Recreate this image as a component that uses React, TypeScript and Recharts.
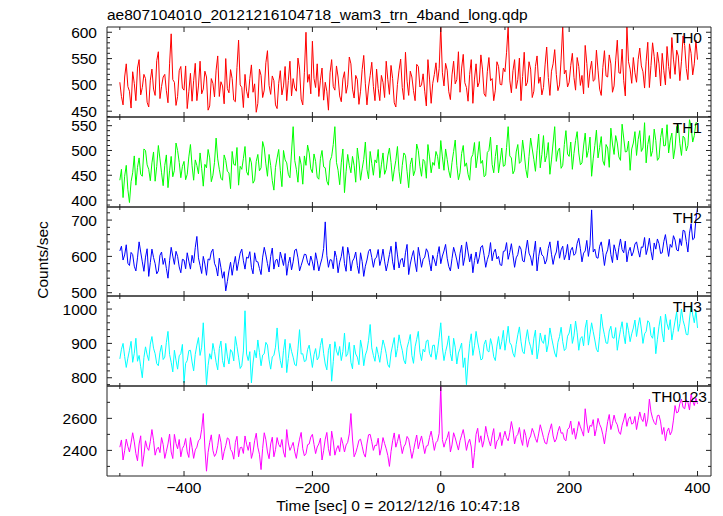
import React from 'react';
import { LineChart, Line, XAxis, YAxis } from 'recharts';

// light curve bins: t = -500 + i * 2.5 sec
const T_START = -500;
const T_STEP = 2.5;

const th0 = [
  505, 478, 462, 515, 540, 497, 488, 456, 525, 503, 470, 532, 548, 481, 495, 520, 512, 467, 458, 509, 530, 492, 480, 546, 563, 474, 497, 515, 520, 489, 466, 540, 597, 510, 505, 461, 478, 527, 535, 494,
  490, 536, 455, 487, 522, 469, 508, 541, 470, 498, 545, 483, 492, 526, 515, 452, 460, 512, 503, 477, 528, 555, 478, 506, 498, 464, 550, 493, 485, 529, 512, 471, 468, 533, 585, 500, 495, 457, 520, 488,
  475, 512, 538, 486, 502, 448, 465, 530, 518, 476, 490, 542, 565, 499, 482, 517, 508, 462, 455, 503, 527, 481, 498, 535, 470, 508, 545, 479, 512, 494, 488, 551, 530, 473, 462, 524, 600, 505, 520, 483,
  583, 512, 495, 540, 478, 509, 532, 471, 505, 488, 452, 523, 548, 497, 490, 536, 515, 479, 468, 511, 525, 484, 500, 553, 540, 492, 475, 518, 510, 463, 488, 529, 556, 502, 462, 496, 518, 543, 497, 470,
  530, 493, 470, 518, 505, 476, 545, 510, 482, 537, 512, 466, 458, 501, 528, 549, 495, 472, 562, 507, 480, 526, 515, 489, 470, 539, 535, 496, 500, 521, 488, 460, 548, 511, 465, 503, 520, 542, 505, 531,
  612, 523, 498, 541, 528, 487, 472, 519, 545, 502, 510, 563, 486, 532, 558, 504, 495, 469, 520, 548, 465, 511, 540, 496, 505, 557, 530, 483, 478, 525, 552, 508, 512, 470, 490, 544, 535, 501, 500, 532,
  525, 562, 612, 509, 485, 527, 548, 493, 510, 551, 470, 516, 562, 498, 505, 544, 530, 476, 488, 535, 555, 503, 515, 481, 495, 538, 572, 514, 480, 526, 540, 567, 520, 489, 500, 549, 612, 521, 528, 496,
  505, 537, 560, 514, 490, 552, 535, 499, 518, 483, 575, 541, 495, 528, 545, 507, 510, 566, 528, 492, 480, 533, 565, 517, 515, 557, 540, 486, 498, 547, 585, 523, 522, 568, 508, 479, 612, 544, 530, 503,
  552, 523, 505, 548, 570, 536, 525, 494, 545, 581, 495, 537, 580, 554, 515, 562, 540, 498, 560, 527, 500, 573, 535, 512, 590, 549, 520, 566, 555, 508, 545, 593, 575, 531, 510, 578, 560, 519, 540, 585,
  548,
];

const th1 = [
  440, 462, 405, 448, 470, 421, 395, 437, 455, 489, 430, 466, 485, 452, 448, 503, 500, 471, 462, 439, 475, 497, 438, 468, 510, 483, 455, 429, 470, 491, 425, 459, 488, 447, 460, 515, 500, 476, 445, 468,
  478, 441, 452, 487, 512, 469, 440, 481, 470, 453, 495, 464, 428, 472, 465, 502, 485, 437, 450, 476, 525, 483, 462, 444, 440, 491, 480, 458, 455, 423, 498, 472, 470, 506, 430, 468, 462, 484, 508, 457,
  450, 486, 475, 434, 440, 478, 492, 459, 465, 518, 505, 473, 448, 492, 470, 439, 420, 466, 485, 502, 460, 427, 500, 481, 475, 452, 445, 497, 548, 480, 462, 436, 488, 471, 432, 489, 470, 511, 495, 463,
  455, 493, 478, 446, 442, 484, 500, 467, 465, 438, 430, 479, 488, 512, 548, 476, 460, 431, 475, 503, 415, 458, 492, 470, 455, 488, 470, 436, 505, 479, 440, 463, 482, 517, 462, 443, 498, 474, 450, 481,
  475, 502, 445, 471, 495, 452, 462, 489, 505, 476, 438, 461, 480, 508, 458, 433, 470, 495, 490, 457, 425, 472, 485, 449, 460, 513, 500, 468, 448, 482, 478, 444, 512, 487, 455, 476, 470, 498, 488, 463,
  520, 487, 460, 503, 482, 459, 445, 476, 498, 521, 470, 441, 455, 494, 510, 468, 475, 452, 440, 485, 492, 516, 465, 489, 518, 474, 480, 447, 450, 496, 500, 527, 472, 455, 488, 511, 455, 479, 505, 468,
  470, 506, 548, 489, 485, 453, 460, 497, 512, 474, 478, 521, 495, 462, 445, 488, 525, 503, 482, 458, 500, 533, 465, 492, 530, 477, 490, 516, 452, 481, 515, 548, 478, 499, 505, 464, 470, 512, 540, 493,
  488, 517, 462, 494, 520, 538, 495, 471, 475, 509, 535, 486, 500, 527, 448, 483, 510, 541, 485, 506, 528, 479, 470, 512, 505, 466, 545, 513, 492, 530, 515, 487, 480, 553, 525, 497, 498, 519, 460, 503,
  515, 538, 490, 522, 540, 498, 505, 556, 475, 512, 530, 488, 500, 543, 520, 480, 485, 526, 545, 509, 510, 552, 495, 521, 535, 483, 505, 548, 552, 514, 490, 529, 525, 499, 510, 562, 548, 517, 530, 556,
  555,
];

const th2 = [
  615, 628, 590, 604, 632, 581, 575, 611, 605, 573, 560, 596, 640, 612, 585, 559, 598, 621, 545, 583, 620, 597, 580, 552, 560, 603, 612, 578, 595, 567, 540, 588, 625, 601, 578, 614, 600, 571, 555, 592,
  590, 566, 610, 587, 565, 603, 582, 624, 655, 596, 575, 553, 600, 579, 548, 593, 590, 612, 620, 581, 570, 546, 595, 569, 540, 558, 505, 531, 560, 584, 548, 577, 600, 561, 585, 609, 620, 588, 565, 598,
  595, 613, 570, 552, 610, 586, 585, 567, 550, 598, 625, 604, 580, 557, 600, 623, 565, 589, 592, 571, 612, 594, 575, 608, 548, 580, 598, 563, 585, 617, 620, 596, 560, 575, 590, 606, 605, 583, 575, 601,
  585, 562, 610, 588, 560, 579, 595, 622, 695, 603, 570, 591, 590, 566, 615, 597, 555, 584, 600, 627, 580, 559, 625, 602, 560, 587, 595, 612, 575, 553, 610, 586, 545, 573, 590, 614, 620, 597, 570, 593,
  598, 619, 575, 593, 620, 587, 560, 581, 605, 628, 585, 563, 640, 604, 568, 590, 595, 571, 610, 633, 550, 579, 600, 616, 582, 558, 625, 599, 570, 592, 598, 621, 612, 584, 560, 603, 590, 574, 605, 627,
  580, 601, 615, 633, 595, 572, 560, 594, 625, 609, 590, 566, 608, 631, 575, 598, 640, 612, 585, 607, 555, 589, 612, 580, 598, 626, 630, 603, 570, 591, 605, 638, 588, 611, 620, 593, 600, 577, 575, 614,
  615, 638, 592, 611, 635, 603, 570, 596, 605, 629, 620, 588, 585, 617, 645, 609, 598, 575, 610, 642, 560, 599, 625, 604, 600, 579, 590, 622, 640, 606, 578, 601, 612, 643, 595, 618, 628, 591, 605, 633,
  590, 617, 625, 603, 608, 636, 650, 621, 585, 609, 615, 644, 600, 631, 728, 612, 620, 597, 595, 628, 640, 611, 575, 606, 618, 647, 605, 583, 632, 614, 590, 625, 648, 619, 610, 642, 585, 613, 625, 601,
  612, 634, 640, 617, 598, 626, 625, 652, 605, 623, 650, 614, 590, 637, 620, 648, 635, 608, 610, 641, 660, 629, 600, 633, 625, 657, 645, 618, 615, 649, 630, 672, 670, 641, 612, 664, 690, 646, 650, 702,
  735,
];

const th3 = [
  855, 883, 900, 862, 830, 857, 880, 906, 845, 871, 915, 848, 865, 832, 800, 859, 890, 867, 850, 898, 920, 886, 870, 841, 835, 874, 895, 853, 860, 903, 935, 868, 845, 817, 880, 851, 825, 864, 870, 897,
  785, 842, 850, 879, 880, 846, 820, 868, 895, 917, 865, 889, 960, 872, 780, 836, 870, 854, 900, 876, 845, 823, 885, 907, 850, 831, 900, 863, 840, 882, 875, 849, 920, 891, 860, 827, 835, 878, 995, 869,
  850, 876, 785, 843, 880, 858, 910, 874, 835, 866, 870, 903, 895, 852, 825, 861, 865, 889, 945, 881, 850, 829, 880, 912, 815, 856, 900, 877, 860, 838, 835, 884, 940, 869, 870, 847, 850, 882, 895, 863,
  830, 867, 885, 852, 860, 894, 915, 871, 840, 823, 880, 898, 790, 847, 905, 878, 865, 891, 850, 876, 930, 862, 870, 903, 845, 826, 895, 869, 860, 838, 910, 884, 835, 866, 880, 909, 955, 887, 865, 848,
  890, 868, 845, 879, 910, 893, 870, 838, 830, 872, 895, 917, 860, 885, 925, 899, 880, 851, 840, 887, 905, 926, 865, 842, 890, 912, 935, 874, 850, 883, 875, 907, 910, 871, 860, 894, 895, 853, 880, 918,
  960, 887, 850, 876, 895, 922, 870, 849, 915, 889, 840, 872, 885, 901, 830, 858, 780, 846, 900, 928, 865, 893, 935, 904, 880, 852, 855, 897, 910, 879, 875, 914, 895, 861, 850, 892, 920, 883, 905, 938,
  880, 913, 950, 902, 895, 871, 860, 897, 925, 948, 905, 876, 870, 912, 940, 906, 890, 867, 915, 939, 855, 884, 930, 907, 900, 925, 875, 898, 945, 918, 895, 872, 860, 903, 920, 947, 905, 879, 885, 921,
  930, 956, 900, 922, 965, 931, 880, 914, 920, 893, 945, 968, 895, 927, 960, 934, 910, 883, 875, 921, 985, 948, 925, 901, 900, 936, 950, 917, 915, 946, 880, 912, 940, 963, 925, 899, 960, 937, 905, 928,
  945, 968, 920, 951, 975, 942, 900, 928, 935, 966, 960, 923, 915, 947, 870, 912, 950, 979, 930, 904, 985, 957, 940, 969, 910, 938, 965, 992, 935, 958, 1000, 967, 950, 926, 925, 971, 1010, 983, 960, 995,
  945,
];

const th0123 = [
  2420, 2465, 2340, 2398, 2470, 2425, 2390, 2447, 2510, 2453, 2380, 2335, 2440, 2491, 2300, 2372, 2460, 2418, 2400, 2456, 2530, 2462, 2370, 2408, 2420, 2386, 2480, 2437, 2350, 2394, 2440, 2502, 2390, 2349, 2500, 2443, 2410, 2468, 2360, 2412,
  2430, 2474, 2390, 2356, 2480, 2419, 2350, 2403, 2420, 2461, 2470, 2532, 2630, 2415, 2270, 2388, 2450, 2497, 2400, 2362, 2380, 2429, 2500, 2451, 2340, 2393, 2430, 2478, 2470, 2406, 2390, 2345, 2450, 2488, 2360, 2417, 2420, 2381, 2490, 2438,
  2400, 2452, 2350, 2389, 2460, 2507, 2420, 2376, 2280, 2413, 2510, 2466, 2390, 2348, 2440, 2482, 2360, 2405, 2480, 2437, 2420, 2468, 2390, 2357, 2530, 2446, 2400, 2424, 2450, 2391, 2350, 2418, 2470, 2512, 2410, 2366, 2380, 2435, 2440, 2483,
  2500, 2437, 2380, 2421, 2440, 2476, 2340, 2398, 2470, 2512, 2410, 2367, 2520, 2459, 2370, 2408, 2430, 2392, 2480, 2441, 2390, 2434, 2450, 2503, 2630, 2471, 2360, 2385, 2420, 2463, 2470, 2426, 2380, 2358, 2440, 2497, 2500, 2454, 2400, 2432,
  2430, 2476, 2370, 2415, 2480, 2443, 2410, 2368, 2300, 2392, 2460, 2509, 2420, 2455, 2500, 2441, 2380, 2423, 2440, 2487, 2470, 2412, 2350, 2398, 2450, 2496, 2410, 2453, 2490, 2436, 2380, 2427, 2430, 2481, 2520, 2462, 2400, 2448, 2460, 2506,
  2800, 2468, 2420, 2455, 2480, 2517, 2390, 2434, 2510, 2478, 2440, 2402, 2460, 2495, 2530, 2472, 2400, 2446, 2470, 2421, 2290, 2387, 2500, 2538, 2450, 2491, 2420, 2463, 2550, 2498, 2460, 2427, 2490, 2536, 2410, 2458, 2470, 2512, 2430, 2481,
  2520, 2478, 2460, 2513, 2580, 2526, 2440, 2487, 2500, 2543, 2470, 2431, 2530, 2492, 2420, 2468, 2490, 2537, 2510, 2474, 2450, 2503, 2560, 2521, 2480, 2446, 2440, 2495, 2530, 2566, 2490, 2452, 2470, 2518, 2550, 2507, 2510, 2469, 2460, 2531,
  2540, 2583, 2500, 2538, 2470, 2519, 2580, 2547, 2520, 2489, 2660, 2571, 2510, 2556, 2550, 2592, 2490, 2535, 2600, 2563, 2540, 2497, 2440, 2512, 2580, 2624, 2530, 2568, 2620, 2579, 2560, 2515, 2500, 2557, 2590, 2631, 2550, 2596, 2610, 2564,
  2570, 2612, 2530, 2587, 2640, 2598, 2580, 2633, 2550, 2596, 2720, 2641, 2600, 2574, 2560, 2617, 2620, 2578, 2500, 2543, 2460, 2518, 2540, 2497, 2520, 2589, 2680, 2634, 2640, 2693, 2720, 2668, 2660, 2715, 2700, 2652, 2750, 2709, 2680, 2726,
  2690,
];

const xMajor = [-400, -200, 0, 200, 400];
const xMinor = [-500, -300, -100, 100, 300];

const th0Major = [450, 500, 550, 600];
const th0Minor = [440, 460, 470, 480, 490, 510, 520, 530, 540, 560, 570, 580, 590];
const th1Major = [400, 450, 500, 550];
const th1Minor = [390, 410, 420, 430, 440, 460, 470, 480, 490, 510, 520, 530, 540, 560];
const th2Major = [500, 600, 700];
const th2Minor = [520, 540, 560, 580, 620, 640, 660, 680, 720];
const th3Major = [800, 900, 1000];
const th3Minor = [780, 820, 840, 860, 880, 920, 940, 960, 980, 1020];
const th0123Major = [2400, 2600];
const th0123Minor = [2300, 2500, 2700];

const X_DOMAIN: [number, number] = [-520, 421];
const FONT = '"Liberation Sans", Arial, Helvetica, sans-serif';
const FS = 15.5;
const AXIS = '#222';
const PAD = 12; // extra svg room so edge labels are not clipped

const fmt = (v: number) => (v < 0 ? `\u2212${-v}` : `${v}`);

const xTick = (dir: number, showLabel: boolean) => (props: any) => {
  const { x, y, payload } = props;
  const big = xMajor.includes(payload.value);
  const len = big ? 5 : 3;
  return (
    <g>
      <line x1={x} x2={x} y1={y} y2={y + dir * len} stroke={AXIS} strokeWidth={1} />
      {showLabel && big && (
        <text x={x} y={y + 17} textAnchor="middle" fontFamily={FONT} fontSize={FS} fill="#000">
          {fmt(payload.value)}
        </text>
      )}
    </g>
  );
};

const yTick = (dir: number, major: number[], showLabel: boolean) => (props: any) => {
  const { x, y, payload } = props;
  const big = major.includes(payload.value);
  const len = big ? 5 : 3;
  return (
    <g>
      <line x1={x} x2={x + dir * len} y1={y} y2={y} stroke={AXIS} strokeWidth={1} />
      {showLabel && big && (
        <text x={x - 10} y={y + 5.5} textAnchor="end" fontFamily={FONT} fontSize={FS} fill="#000">
          {payload.value}
        </text>
      )}
    </g>
  );
};

interface PanelProps {
  values: number[];
  color: string;
  domain: [number, number];
  major: number[];
  minor: number[];
  top: number;
  height: number;
  last?: boolean;
}

function Panel({ values, color, domain, major, minor, top, height, last }: PanelProps) {
  const data = values.map((v, i) => ({ t: T_START + i * T_STEP, v }));
  const padBottom = last ? 40 : PAD;
  const yTicks = [...minor, ...major].sort((a, b) => a - b);
  const xTicks = [...xMinor, ...xMajor].sort((a, b) => a - b);
  return (
    <div style={{ position: 'absolute', left: 0, top: top - PAD - 1 }}>
      <LineChart
        width={723}
        height={height + PAD + padBottom + 2}
        data={data}
        margin={{ top: PAD, right: 0, bottom: padBottom, left: 0 }}
      >
        <XAxis
          xAxisId="b"
          type="number"
          dataKey="t"
          domain={X_DOMAIN}
          allowDataOverflow
          ticks={xTicks}
          interval={0}
          height={1}
          tickSize={0}
          tickMargin={0}
          tickLine={false}
          axisLine={{ stroke: AXIS }}
          tick={xTick(-1, !!last)}
        />
        <XAxis
          xAxisId="t"
          orientation="top"
          type="number"
          dataKey="t"
          domain={X_DOMAIN}
          allowDataOverflow
          ticks={xTicks}
          interval={0}
          height={1}
          tickSize={0}
          tickMargin={0}
          tickLine={false}
          axisLine={{ stroke: AXIS }}
          tick={xTick(1, false)}
        />
        <YAxis
          yAxisId="l"
          type="number"
          domain={domain}
          allowDataOverflow
          ticks={yTicks}
          interval={0}
          width={107}
          stroke={AXIS}
          tickSize={0}
          tickMargin={0}
          tickLine={false}
          tick={yTick(1, major, true)}
        />
        <YAxis
          yAxisId="r"
          orientation="right"
          type="number"
          domain={domain}
          allowDataOverflow
          ticks={yTicks}
          interval={0}
          width={12}
          stroke={AXIS}
          tickSize={0}
          tickMargin={0}
          tickLine={false}
          tick={yTick(-1, major, false)}
        />
        <Line
          xAxisId="b"
          yAxisId="l"
          type="linear"
          dataKey="v"
          stroke={color}
          strokeWidth={1}
          dot={false}
          isAnimationActive={false}
        />
      </LineChart>
    </div>
  );
}

const panels = [
  { values: th0, color: '#ff0000', domain: [439, 610] as [number, number], major: th0Major, minor: th0Minor, top: 27, height: 90, label: 'TH0', lx: 702 },
  { values: th1, color: '#00ff00', domain: [386, 567.5] as [number, number], major: th1Major, minor: th1Minor, top: 117, height: 90, label: 'TH1', lx: 702 },
  { values: th2, color: '#0000ff', domain: [491, 736] as [number, number], major: th2Major, minor: th2Minor, top: 207, height: 89, label: 'TH2', lx: 702 },
  { values: th3, color: '#00ffff', domain: [776, 1038] as [number, number], major: th3Major, minor: th3Minor, top: 296, height: 90, label: 'TH3', lx: 702 },
  { values: th0123, color: '#ff00ff', domain: [2240, 2802] as [number, number], major: th0123Major, minor: th0123Minor, top: 386, height: 90, label: 'TH0123', lx: 707 },
];

export default function App() {
  return (
    <div
      style={{
        position: 'fixed',
        left: 0,
        top: 0,
        width: 723,
        height: 516,
        background: '#fff',
        overflow: 'hidden',
      }}
    >
      {panels.map((p, i) => (
        <Panel
          key={p.label}
          values={p.values}
          color={p.color}
          domain={p.domain}
          major={p.major}
          minor={p.minor}
          top={p.top}
          height={p.height}
          last={i === panels.length - 1}
        />
      ))}
      <svg
        width={723}
        height={516}
        style={{ position: 'absolute', left: 0, top: 0, pointerEvents: 'none' }}
      >
        <g fontFamily={FONT} fontSize={FS} fill="#000">
          <text x={107} y={20}>ae807104010_20121216104718_wam3_trn_4band_long.qdp</text>
          <text x={48} y={260} transform="rotate(-90 48 260)" textAnchor="middle">
            Counts/sec
          </text>
          <text x={398} y={511} textAnchor="middle">
            Time [sec] 0 = 2012/12/16 10:47:18
          </text>
          {panels.map((p) => (
            <text key={p.label} x={p.lx} y={p.top + 16} textAnchor="end">
              {p.label}
            </text>
          ))}
        </g>
      </svg>
    </div>
  );
}
